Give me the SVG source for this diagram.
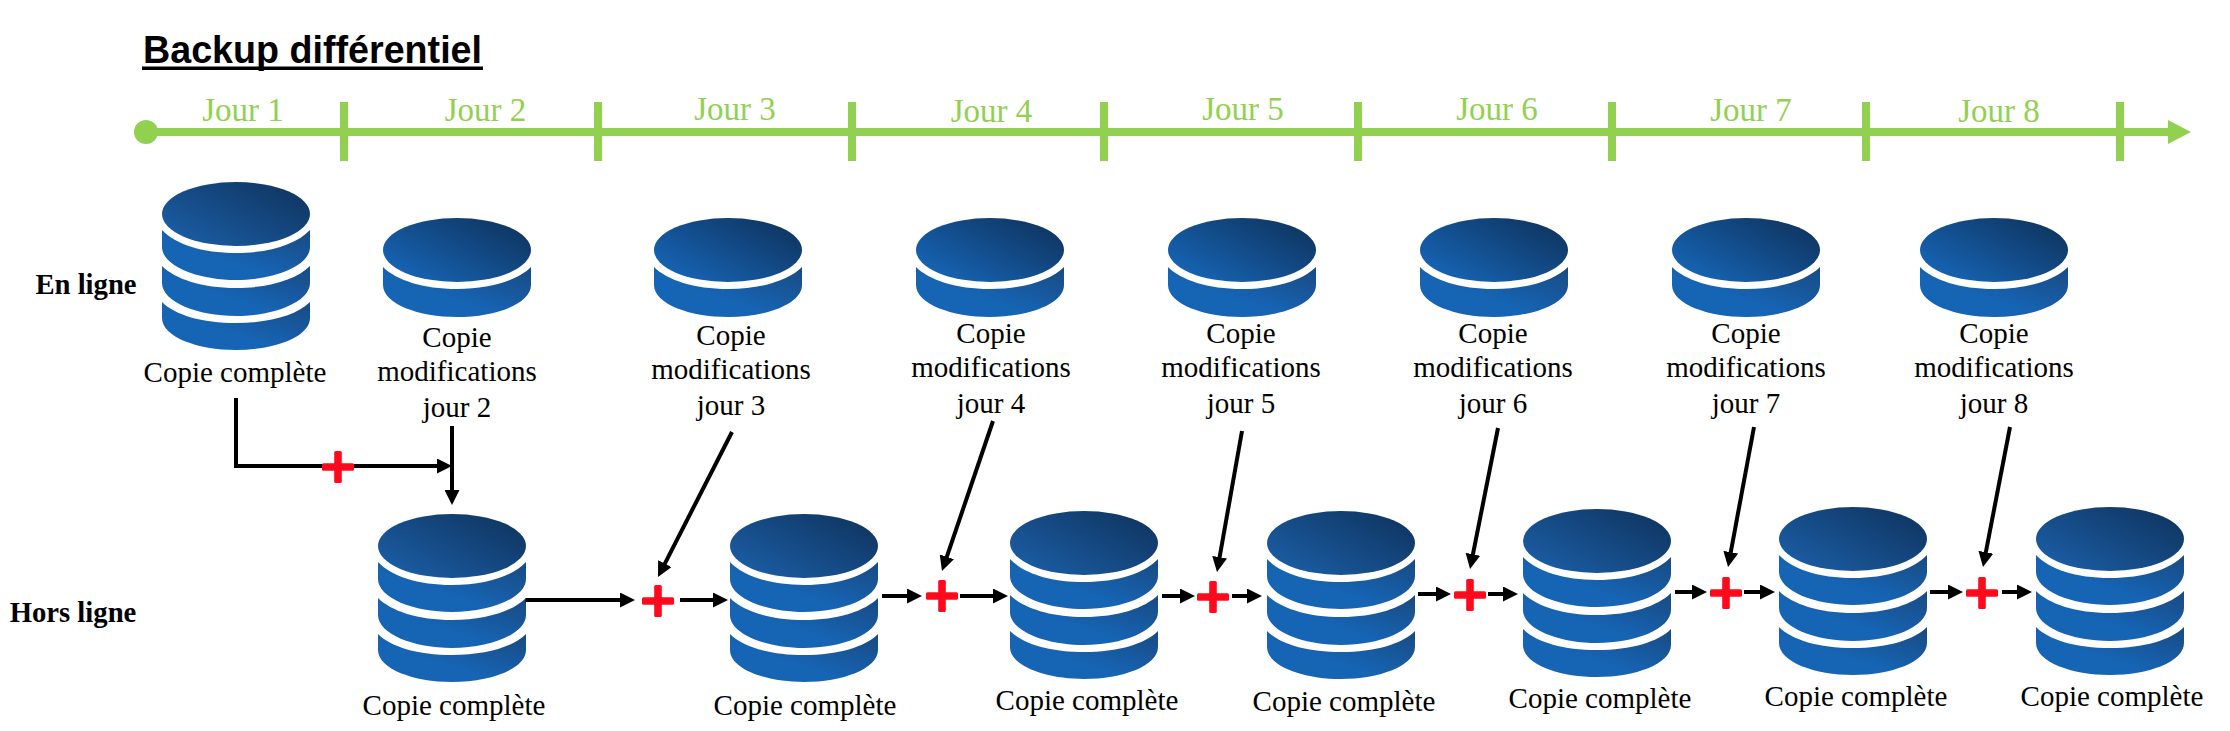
<svg xmlns="http://www.w3.org/2000/svg" width="2230" height="731" viewBox="0 0 2230 731">
<style>
text{font-family:"Liberation Serif","Times New Roman",serif;fill:#000;text-anchor:middle}
.lbl{font-size:29px}
.day{font-size:33px;fill:#92d050}
.side{font-size:28.7px;font-weight:bold}
.title{font-family:"Liberation Sans",Arial,sans-serif;font-size:39px;font-weight:bold;text-anchor:start}
.tl{stroke:#92d050;stroke-width:8;fill:none}
.tick{fill:#92d050}
.c{stroke:#000;stroke-width:4;fill:none;marker-end:url(#ah)}
.plus{fill:#ff0a1c}
</style>
<defs>
<linearGradient id="gt" x1="0.08" y1="0.85" x2="0.95" y2="0.15"><stop offset="0" stop-color="#1664b4"/><stop offset="1" stop-color="#0f3561"/></linearGradient>
<linearGradient id="gt3" x1="0" y1="0.85" x2="0.95" y2="0.1"><stop offset="0" stop-color="#1b5ea6"/><stop offset="1" stop-color="#0f3561"/></linearGradient>
<linearGradient id="gb" x1="0.1" y1="0.9" x2="1" y2="0"><stop offset="0.35" stop-color="#1664b4"/><stop offset="1" stop-color="#194a82"/></linearGradient>
<marker id="ah" markerUnits="userSpaceOnUse" markerWidth="15" markerHeight="15" viewBox="0 0 15 15" refX="7.5" refY="7.5" orient="auto"><path d="M0 0L15 7.5L0 15z" fill="#000"/></marker>
<g id="db3">
<ellipse cx="74" cy="32" rx="74" ry="32" fill="url(#gt3)"/>
<path d="M0 48C13 62 40 71 74 71S135 62 148 48V65C148 84 112 98 74 98S0 84 0 65z" fill="url(#gb)"/>
<path d="M0 84C13 97 40 106 74 106S135 97 148 84V101C148 120 112 134 74 134S0 120 0 101z" fill="url(#gb)"/>
<path d="M0 120C13 133 40 141 74 141S135 133 148 120V136C148 155 112 168 74 168S0 155 0 136z" fill="url(#gb)"/>
</g>
<g id="db1">
<ellipse cx="74" cy="32" rx="74" ry="32" fill="url(#gt)"/>
<path d="M0 49C13 62 40 71 74 71S135 62 148 49V67C148 86 112 99 74 99S0 86 0 67z" fill="url(#gb)"/>
</g>
<g id="cross"><rect x="-16" y="-3.8" width="32" height="7.6" rx="1.5"/><rect x="-3.8" y="-16" width="7.6" height="32" rx="1.5"/></g>
</defs>
<text class="title" x="143" y="63" textLength="339" lengthAdjust="spacingAndGlyphs">Backup différentiel</text>
<rect x="142" y="66.500" width="341" height="3.500" fill="#000"/>
<g id="timeline">
<circle cx="146" cy="132" r="12" fill="#92d050"/>
<path class="tl" d="M146 132H2170"/>
<path d="M2168 120L2191 132L2168 144z" fill="#92d050"/>
<rect class="tick" x="340" y="102" width="8" height="59"/>
<rect class="tick" x="594" y="102" width="8" height="59"/>
<rect class="tick" x="848" y="102" width="8" height="59"/>
<rect class="tick" x="1100" y="102" width="8" height="59"/>
<rect class="tick" x="1354" y="102" width="8" height="59"/>
<rect class="tick" x="1608" y="102" width="8" height="59"/>
<rect class="tick" x="1862" y="102" width="8" height="59"/>
<rect class="tick" x="2116" y="102" width="8" height="59"/>
<text class="day" x="243" y="121">Jour 1</text>
<text class="day" x="485.500" y="121">Jour 2</text>
<text class="day" x="735" y="120">Jour 3</text>
<text class="day" x="991.500" y="122">Jour 4</text>
<text class="day" x="1243" y="120">Jour 5</text>
<text class="day" x="1497" y="120">Jour 6</text>
<text class="day" x="1751" y="121">Jour 7</text>
<text class="day" x="1999" y="122">Jour 8</text>
</g>
<text class="side" x="86" y="294">En ligne</text>
<text class="side" x="73" y="622">Hors ligne</text>
<g id="online-full"><use href="#db3" x="162" y="182"/><text class="lbl" x="235" y="382">Copie complète</text></g>
<g id="online-2"><use href="#db1" x="383" y="218"/><text class="lbl"><tspan x="457" y="347">Copie</tspan><tspan x="457" y="381">modifications</tspan><tspan x="457" y="417">jour 2</tspan></text></g>
<g id="online-3"><use href="#db1" x="654" y="218"/><text class="lbl"><tspan x="731" y="345">Copie</tspan><tspan x="731" y="379">modifications</tspan><tspan x="731" y="415">jour 3</tspan></text></g>
<g id="online-4"><use href="#db1" x="916" y="218"/><text class="lbl"><tspan x="991" y="343">Copie</tspan><tspan x="991" y="377">modifications</tspan><tspan x="991" y="413">jour 4</tspan></text></g>
<g id="online-5"><use href="#db1" x="1168" y="218"/><text class="lbl"><tspan x="1241" y="343">Copie</tspan><tspan x="1241" y="377">modifications</tspan><tspan x="1241" y="413">jour 5</tspan></text></g>
<g id="online-6"><use href="#db1" x="1420" y="218"/><text class="lbl"><tspan x="1493" y="343">Copie</tspan><tspan x="1493" y="377">modifications</tspan><tspan x="1493" y="413">jour 6</tspan></text></g>
<g id="online-7"><use href="#db1" x="1672" y="218"/><text class="lbl"><tspan x="1746" y="343">Copie</tspan><tspan x="1746" y="377">modifications</tspan><tspan x="1746" y="413">jour 7</tspan></text></g>
<g id="online-8"><use href="#db1" x="1920" y="218"/><text class="lbl"><tspan x="1994" y="343">Copie</tspan><tspan x="1994" y="377">modifications</tspan><tspan x="1994" y="413">jour 8</tspan></text></g>
<g id="offline-2"><use href="#db3" x="378" y="514"/><text class="lbl" x="454" y="715">Copie complète</text></g>
<g id="offline-3"><use href="#db3" x="730" y="514"/><text class="lbl" x="805" y="715">Copie complète</text></g>
<g id="offline-4"><use href="#db3" x="1010" y="511"/><text class="lbl" x="1087" y="710">Copie complète</text></g>
<g id="offline-5"><use href="#db3" x="1267" y="511"/><text class="lbl" x="1344" y="711">Copie complète</text></g>
<g id="offline-6"><use href="#db3" x="1523" y="509"/><text class="lbl" x="1600" y="708">Copie complète</text></g>
<g id="offline-7"><use href="#db3" x="1779" y="507"/><text class="lbl" x="1856" y="706">Copie complète</text></g>
<g id="offline-8"><use href="#db3" x="2036" y="507"/><text class="lbl" x="2112" y="706">Copie complète</text></g>
<g id="connectors">
<path d="M236 398V466H444.500" class="c"/>
<path d="M452 426V497.500" class="c"/>
<path d="M525.500 600H627.500" class="c"/>
<path d="M680 600H720.500" class="c"/>
<path d="M732 432L661.400 570.300" class="c"/>
<path d="M882 596H914.500" class="c"/>
<path d="M960 596H1000.500" class="c"/>
<path d="M993 421L944.400 563.900" class="c"/>
<path d="M1162 596H1187.500" class="c"/>
<path d="M1232 596H1254.500" class="c"/>
<path d="M1242 431L1218.300 564.600" class="c"/>
<path d="M1418 594H1443.500" class="c"/>
<path d="M1488 594H1510.500" class="c"/>
<path d="M1498 428L1471.500 561.600" class="c"/>
<path d="M1675 592H1699.500" class="c"/>
<path d="M1744 592H1767.500" class="c"/>
<path d="M1754 427L1729.400 559.600" class="c"/>
<path d="M1930 592H1955.500" class="c"/>
<path d="M2002 592H2024.500" class="c"/>
<path d="M2010 427L1984.400 559.600" class="c"/>
</g>
<g id="plus-signs">
<use href="#cross" class="plus" x="338" y="467"/>
<use href="#cross" class="plus" x="658" y="601"/>
<use href="#cross" class="plus" x="942" y="596"/>
<use href="#cross" class="plus" x="1213" y="597"/>
<use href="#cross" class="plus" x="1470" y="595"/>
<use href="#cross" class="plus" x="1726" y="593"/>
<use href="#cross" class="plus" x="1982" y="593"/>
</g>
</svg>
